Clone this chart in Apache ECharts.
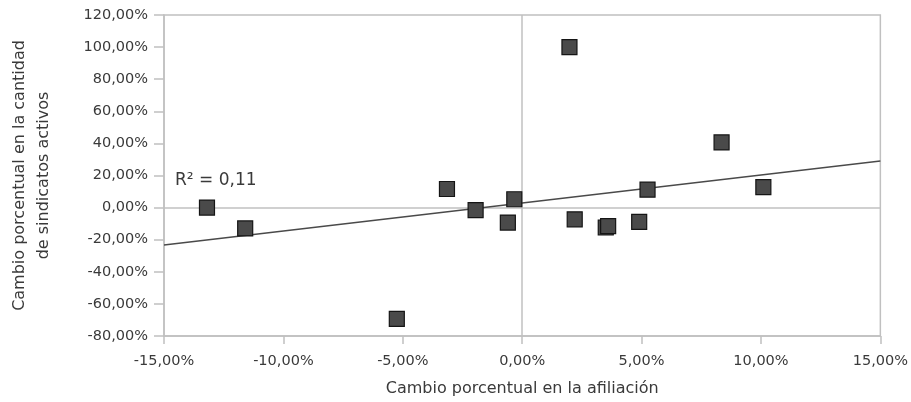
<!DOCTYPE html>
<html>
<head>
<meta charset="utf-8">
<script src="https://cdn.jsdelivr.net/npm/echarts@6/dist/echarts.min.js"></script>
<style>
html,body{margin:0;padding:0;background:#fff;}
#chart{width:911px;height:402px;}
</style>
</head>
<body>
<div id="chart"></div>
<script>
// Cambio porcentual en la afiliación (%), cambio en sindicatos activos (%)
var afiliacion = [-13.2, -11.6, -5.25, -3.15, -1.95, -0.6, -0.33, 1.98, 2.2, 3.5, 3.6, 4.9, 5.25, 8.35, 10.1];
var sindicatos = [0.0, -13.0, -69.3, 11.6, -1.6, -9.3, 5.2, 100.0, -7.3, -12.4, -11.6, -8.9, 11.2, 40.6, 12.8];
// trendline endpoints
var trendX = [-15, 15];
var trendY = [-23.3, 29.0];
var r2Label = 'R² = 0,11';
var xTitle = 'Cambio porcentual en la afiliación';
var yTitle = 'Cambio porcentual en la cantidad\nde sindicatos activos';

var FONT = 'DejaVu Sans';
var TXT = '#3a3a3a';
var AX = '#c0c0c0';
function pct(v){ return v.toFixed(2).replace('.', ',') + '%'; }

var points = afiliacion.map(function(x, i){ return [x, sindicatos[i]]; });
var trend = trendX.map(function(x, i){ return [x, trendY[i]]; });

var chart = echarts.init(document.getElementById('chart'));
chart.setOption({
  animation: false,
  backgroundColor: '#fff',
  textStyle: { fontFamily: FONT },
  grid: { left: 161, right: 26, top: 15, bottom: 63, show: true, borderColor: AX, borderWidth: 1.5, containLabel: false },
  xAxis: {
    type: 'value', min: -15, max: 15, interval: 5,
    name: xTitle, nameLocation: 'middle', nameGap: 45,
    nameTextStyle: { fontFamily: FONT, fontSize: 16, color: TXT },
    axisLine: { show: true, onZero: false, lineStyle: { color: AX, width: 1.5 } },
    axisTick: { show: true, length: 8, lineStyle: { color: AX, width: 1.5 } },
    axisLabel: { formatter: pct, fontFamily: FONT, fontSize: 14.5, color: TXT, margin: 18 },
    splitLine: { show: false }
  },
  yAxis: {
    type: 'value', min: -80, max: 120, interval: 20,
    name: yTitle, nameLocation: 'middle', nameGap: 108, nameRotate: 90,
    nameTextStyle: { fontFamily: FONT, fontSize: 16, color: TXT, lineHeight: 24, align: 'center' },
    axisLine: { show: true, onZero: false, lineStyle: { color: AX, width: 1.5 } },
    axisTick: { show: true, length: 10, lineStyle: { color: AX, width: 1.5 } },
    axisLabel: { formatter: pct, fontFamily: FONT, fontSize: 14.5, color: TXT, margin: 16 },
    splitLine: { show: false }
  },
  series: [
    {
      type: 'line', data: trend, symbol: 'none', silent: true,
      lineStyle: { color: '#4a4a4a', width: 1.5 },
      z: 3,
      markLine: {
        silent: true, symbol: 'none', label: { show: false },
        lineStyle: { color: AX, width: 1.5, type: 'solid' },
        data: [{ xAxis: 0 }, { yAxis: 0 }],
        z: 1
      }
    },
    {
      type: 'scatter', data: points, symbol: 'rect', symbolSize: 15,
      itemStyle: { color: '#4a4a4a', borderColor: '#151515', borderWidth: 1.2, opacity: 1 },
      z: 5
    }
  ],
  graphic: [
    { type: 'text', left: 175, top: 172, style: { text: r2Label, fontFamily: FONT, fontSize: 17, fill: TXT } }
  ]
});
</script>
</body>
</html>
